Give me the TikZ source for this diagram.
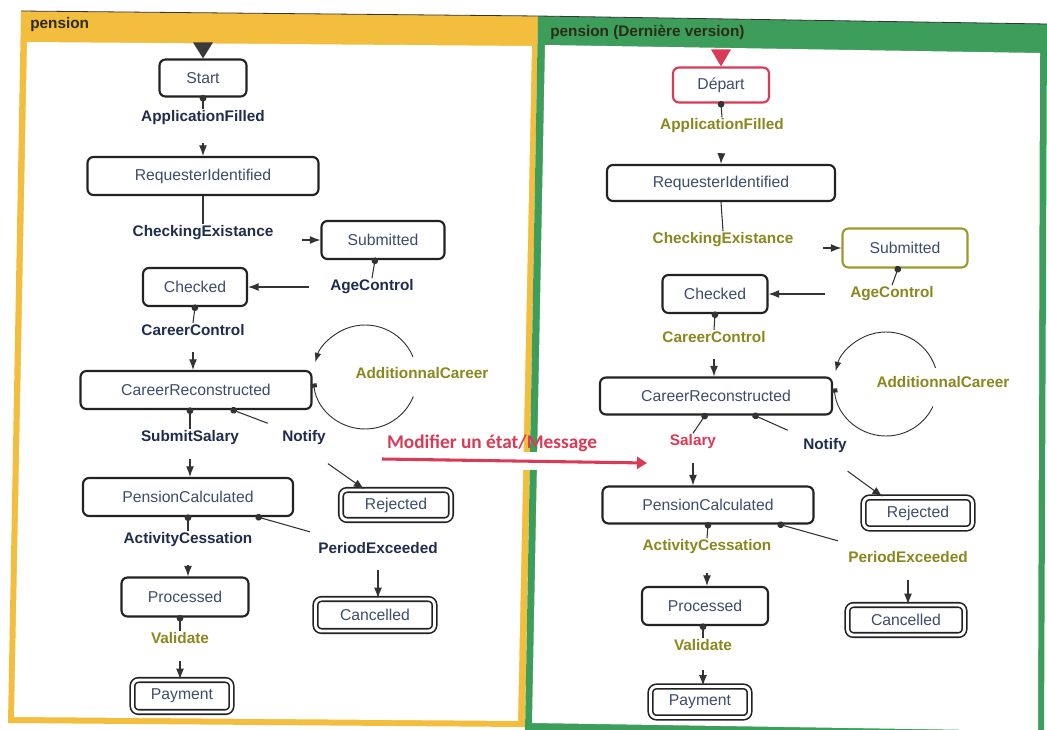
\documentclass[tikz,border=0pt]{standalone}
\usepackage{fontspec}
\setmainfont{Liberation Sans}
\newfontfamily\annfont{Carlito}
\usetikzlibrary{arrows.meta}

\definecolor{paneorange}{HTML}{F3BE3E}
\definecolor{panegreen}{HTML}{3C9E5A}
\definecolor{boxline}{HTML}{222222}
\definecolor{wire}{HTML}{333333}
\definecolor{statetxt}{HTML}{3E4C6C}
\definecolor{navy}{HTML}{1F2D4D}
\definecolor{olive}{HTML}{8A871E}
\definecolor{olivebox}{HTML}{9C9A2E}
\definecolor{crimson}{HTML}{D93A55}
\definecolor{headtxt}{HTML}{2A2C18}
\definecolor{initc}{HTML}{3A3A3A}

\begin{document}
\begin{tikzpicture}[x=0.75pt,y=-0.75pt,
  stbox/.style={draw=boxline, line width=1.6pt, rounded corners=4.5pt, fill=white,
    text=statetxt, font=\fontsize{11.8}{14}\selectfont, inner sep=0pt},
  finbox/.style={stbox, line width=1.2pt, double=white, double distance=2.2pt},
  sz/.style 2 args={minimum width=#1*0.75pt, minimum height=#2*0.75pt},
  evt/.style={font=\bfseries\fontsize{11.5}{13.8}\selectfont, inner sep=1pt, text=navy},
  evo/.style={evt, text=olive},
  hdr/.style={font=\bfseries\fontsize{11.5}{13.8}\selectfont, inner sep=0pt, text=headtxt},
  plain/.style={draw=wire, line width=0.8pt},
  evline/.style={plain, {Circle[length=5pt]}-, shorten <=-2pt},
  evarrow/.style={plain, -{Latex[length=8pt,width=6pt]}},
  loopline/.style={draw=wire, line width=0.7pt},
  annot/.style={font=\annfont\bfseries\fontsize{14.5}{17}\selectfont, text=crimson, inner sep=0pt},
  redarrow/.style={draw=crimson, line width=2.3pt, -{Triangle[length=7.5pt,width=9pt]}}
]
\useasboundingbox (0,0) rectangle (1047,729);
\clip (0,0) rectangle (1047,729);
\fill[white] (0,0) rectangle (1047,729);

% ---------- the two panels ----------
\fill[paneorange] (21,11) -- (538,16) -- (525,727) -- (8,723) -- cycle;
\fill[white] (27,42) -- (532,46) -- (518,721) -- (14,717) -- cycle;
\fill[panegreen] (538,16) -- (1047,24) -- (1044,740) -- (525,733) -- cycle;
\fill[white] (545,45) -- (1040,53) -- (1038,731) -- (532,723) -- cycle;
\draw[gray!40!black, line width=0.6pt] (21,11) -- (538,16) -- (1047,24);

\node[hdr, anchor=west] (hleft) at (30,25) {pension};
\node[hdr, anchor=west] (hright) at (550,32) {pension (Dernière version)};

% ---------- first version ----------
\node[stbox, sz={87}{37}]  (start) at (203,78)  {Start};
\node[stbox, sz={231}{38}] (req)   at (203,176) {RequesterIdentified};
\node[stbox, sz={123}{38}] (sub)   at (383,240) {Submitted};
\node[stbox, sz={104}{38}] (chk)   at (195,287) {Checked};
\node[stbox, sz={231}{38}] (cr)    at (196,390) {CareerReconstructed};
\node[stbox, sz={210}{38}] (pc)    at (188,497) {PensionCalculated};
\node[finbox, sz={110}{30}] (rej)  at (396,505) {Rejected};
\node[stbox, sz={127}{39}] (proc)  at (185,597) {Processed};
\node[finbox, sz={119}{32}] (canc) at (375,615) {Cancelled};
\node[finbox, sz={99}{32}]  (pay)  at (182,696) {Payment};

\node[evt] (af)  at (203,118) {ApplicationFilled};
\node[evt] (ce)  at (203,233) {CheckingExistance};
\node[evt] (ac)  at (372,287) {AgeControl};
\node[evt] (cc)  at (193,330) {CareerControl};
\node[evo] (adc) at (422,373) {AdditionnalCareer};
\node[evt] (ss)  at (190,438) {SubmitSalary};
\node[evt] (nt)  at (304,438) {Notify};
\node[evt] (act) at (188,540) {ActivityCessation};
\node[evt] (pe)  at (378,548) {PeriodExceeded};
\node[evo] (val) at (180,638) {Validate};

\fill[initc] ([xshift=-7.5pt,yshift=12pt]start.north) -- ([xshift=7.5pt,yshift=12pt]start.north) -- (start.north) -- cycle;

\draw[evline] (start.south) -- (af.north);
\draw[evarrow, shorten <=12pt] (af.south) -- (req.north);
\draw[plain] (req.south) -- (ce.north);
\draw[evarrow, shorten <=20pt] (ce.east |- sub.west) -- (sub.west);
\draw[evline] ([xshift=-6pt]sub.south) -- (ac.north);
\draw[evarrow, shorten <=15pt] (ac.west) -- (chk.east);
\draw[evline] (chk.south) -- (cc.north);
\draw[evarrow, shorten <=11pt] (cc.south) -- (cc.south |- cr.north);
\draw[evline] (cr.south -| ss.north) -- (ss.north);
\draw[evarrow, shorten <=9pt] (ss.south) -- (ss.south |- pc.north);
\draw[evline] ([xshift=27.75pt]cr.south) -- ([xshift=-9.75pt,yshift=4.5pt]nt.north west);
\draw[evarrow, shorten <=22pt] (nt.south) -- ([xshift=18pt]rej.north west);
\draw[evline] (pc.south -| act.north) -- (act.north);
\draw[evarrow, shorten <=12pt] (act.south) -- (act.south |- proc.north);
\draw[evline] ([xshift=52.5pt]pc.south) -- ([xshift=-5.25pt,yshift=6.75pt]pe.north west);
\draw[evarrow, shorten <=11pt] (pe.south) -- (pe.south |- canc.north);
\draw[evline] (proc.south -| val.north) -- (val.north);
\draw[evarrow, shorten <=12pt] (val.south) -- (val.south |- pay.north);

\coordinate (lpc) at ([xshift=39.4pt,yshift=9.75pt]cr.east);
\draw[loopline, {Rectangle[length=3pt,width=4.5pt]}-] ([shift={(172.7:52)}]lpc) arc[start angle=172.7, end angle=22, radius=52];
\draw[loopline, -{Latex[length=7pt,width=5pt]}] ([shift={(-23:52)}]lpc) arc[start angle=-23, end angle=-163.4, radius=52];

% ---------- latest version ----------
\node[stbox, draw=crimson, sz={96}{35}] (dep) at (721,85) {Départ};
\node[stbox, sz={228}{36}] (req2)  at (721,183) {RequesterIdentified};
\node[stbox, draw=olivebox, sz={125}{39}] (sub2) at (905,248) {Submitted};
\node[stbox, sz={105}{38}] (chk2)  at (715,294) {Checked};
\node[stbox, sz={232}{37}] (cr2)   at (716,396) {CareerReconstructed};
\node[stbox, sz={211}{37}] (pc2)   at (708,505) {PensionCalculated};
\node[finbox, sz={109}{31}] (rej2) at (918,513) {Rejected};
\node[stbox, sz={126}{38}] (proc2) at (705,606) {Processed};
\node[finbox, sz={117}{30}] (canc2) at (906,620) {Cancelled};
\node[finbox, sz={99}{31}]  (pay2) at (700,702) {Payment};

\node[evo] (af2)  at (722,126) {ApplicationFilled};
\node[evo] (ce2)  at (723,240) {CheckingExistance};
\node[evo] (ac2)  at (892,294) {AgeControl};
\node[evo] (cc2)  at (714,337) {CareerControl};
\node[evo] (adc2) at (943,382) {AdditionnalCareer};
\node[evt, text=crimson] (sal2) at (693,442) {Salary};
\node[evt] (nt2)  at (825,446) {Notify};
\node[evo] (act2) at (707,547) {ActivityCessation};
\node[evo] (pe2)  at (908,557) {PeriodExceeded};
\node[evo] (val2) at (703,645) {Validate};

\fill[crimson] ([xshift=-7.5pt,yshift=12.75pt]dep.north) -- ([xshift=7.5pt,yshift=12.75pt]dep.north) -- (dep.north) -- cycle;

\draw[evline] (dep.south) -- (af2.north);
\draw[evarrow, shorten <=14pt] (af2.south) -- (req2.north);
\draw[plain] (req2.south) -- (ce2.north);
\draw[evarrow, shorten <=21pt] (ce2.east |- sub2.west) -- (sub2.west);
\draw[evline] ([xshift=-5.25pt]sub2.south) -- (ac2.north);
\draw[evarrow, shorten <=18pt] (ac2.west) -- (chk2.east);
\draw[evline] (chk2.south) -- (cc2.north);
\draw[evarrow, shorten <=11pt] (cc2.south) -- (cc2.south |- cr2.north);
\draw[evline] ([xshift=-8.25pt]cr2.south) -- (sal2.north);
\draw[evarrow, shorten <=9pt] (sal2.south) -- (sal2.south |- pc2.north);
\draw[evline] ([xshift=29.25pt]cr2.south) -- ([xshift=-10.5pt,yshift=5.25pt]nt2.north west);
\draw[evarrow, shorten <=21pt] (nt2.south) -- ([xshift=15pt]rej2.north west);
\draw[evline] (pc2.south) -- (act2.north);
\draw[evarrow, shorten <=13pt] (act2.south) -- (act2.south |- proc2.north);
\draw[evline] ([xshift=54pt]pc2.south) -- ([xshift=-6.75pt,yshift=6.75pt]pe2.north west);
\draw[evarrow, shorten <=12pt] (pe2.south) -- (pe2.south |- canc2.north);
\draw[evline] (proc2.south -| val2.north) -- (val2.north);
\draw[evarrow, shorten <=13pt] (val2.south) -- (val2.south |- pay2.north);

\coordinate (lpc2) at ([xshift=39.75pt,yshift=9pt]cr2.east);
\draw[loopline, {Rectangle[length=3pt,width=4.5pt]}-] ([shift={(175:52)}]lpc2) arc[start angle=175, end angle=25.6, radius=52];
\draw[loopline, -{Latex[length=7pt,width=5pt]}] ([shift={(-18:52)}]lpc2) arc[start angle=-18, end angle=-165.7, radius=52];

% ---------- change annotation ----------
\fill[white] (510,452) rectangle (550,470);
\node[annot] (modtxt) at (492,443) {Modifier un état/Message};
\coordinate (modA) at (382,459);
\coordinate (modB) at (647,463);
\draw[redarrow] (modA) -- (modB);
\end{tikzpicture}
\end{document}
